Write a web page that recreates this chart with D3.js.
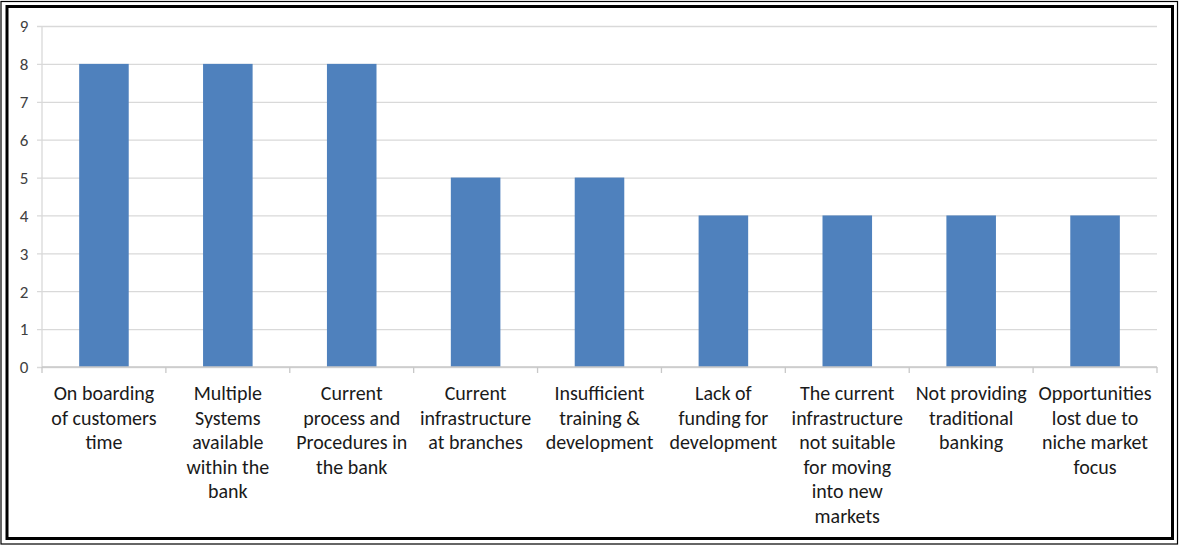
<!DOCTYPE html>
<html>
<head>
<meta charset="utf-8">
<script src="https://cdn.jsdelivr.net/npm/d3@7"></script>
<style>
  html, body { margin: 0; padding: 0; background: #fff; }
  svg { display: block; }
</style>
</head>
<body>
<svg id="chart" width="1179" height="545"></svg>
<script>
const categories = [
  ["On boarding", "of customers", "time"],
  ["Multiple", "Systems", "available", "within the", "bank"],
  ["Current", "process and", "Procedures in", "the bank"],
  ["Current", "infrastructure", "at branches"],
  ["Insufficient", "training &", "development"],
  ["Lack of", "funding for", "development"],
  ["The current", "infrastructure", "not suitable", "for moving", "into new", "markets"],
  ["Not providing", "traditional", "banking"],
  ["Opportunities", "lost due to", "niche market", "focus"]
];
const values = [8, 8, 8, 5, 5, 4, 4, 4, 4];
const yTicks = [0, 1, 2, 3, 4, 5, 6, 7, 8, 9];

const svg = d3.select("#chart");
const W = 1179, H = 545;
const font = "Carlito, Calibri, Lato, 'Open Sans', sans-serif";

// double border
svg.append("rect").attr("x", 1).attr("y", 1.5).attr("width", W - 2.5).attr("height", H - 2.5)
  .attr("fill", "none").attr("stroke", "#000").attr("stroke-width", 1.2);
svg.append("rect").attr("x", 7).attr("y", 6.5).attr("width", W - 13.5).attr("height", H - 13)
  .attr("fill", "none").attr("stroke", "#000").attr("stroke-width", 3);

const plot = { left: 42, right: 1157, top: 26, bottom: 367 };
const ids = categories.map((c, i) => i);
const x = d3.scaleBand().domain(ids).range([plot.left, plot.right]).paddingInner(0.6).paddingOuter(0.3);
const xOuter = d3.scaleBand().domain(ids).range([plot.left, plot.right]);
const y = d3.scaleLinear().domain([0, 9]).range([plot.bottom, plot.top]);

// gridlines + y axis
const yAxis = d3.axisLeft(y).tickValues(yTicks).tickSize(-(plot.right - plot.left));
const gy = svg.append("g").attr("transform", `translate(${plot.left},0)`).call(yAxis);
gy.attr("font-size", null).attr("font-family", null);
gy.select(".domain").remove();
gy.selectAll(".tick line").attr("stroke", "#d9d9d9").attr("stroke-width", 1.3).attr("x1", -5);
gy.selectAll(".tick text")
  .style("font-family", font).style("font-size", "17px")
  .attr("fill", "#404040").attr("text-anchor", "middle").attr("x", -18).attr("dy", "0.34em");

svg.append("line").attr("x1", plot.left).attr("x2", plot.left).attr("y1", plot.top).attr("y2", plot.bottom)
  .attr("stroke", "#d9d9d9").attr("stroke-width", 1.3);

// bars
svg.append("g").selectAll("rect").data(values).join("rect")
  .attr("x", (d, i) => x(i)).attr("width", x.bandwidth())
  .attr("y", d => y(d)).attr("height", d => y(0) - y(d))
  .attr("fill", "#4f81bd");

// x axis
svg.append("line").attr("x1", plot.left).attr("x2", plot.right).attr("y1", plot.bottom).attr("y2", plot.bottom)
  .attr("stroke", "#c8c8c8").attr("stroke-width", 1.3);
const bounds = ids.map(i => xOuter(i)).concat([plot.right]);
svg.append("g").selectAll("line").data(bounds).join("line")
  .attr("x1", d => d).attr("x2", d => d).attr("y1", plot.bottom).attr("y2", plot.bottom + 6)
  .attr("stroke", "#c8c8c8").attr("stroke-width", 1.3);

// category labels
const lg = svg.append("g");
categories.forEach((lines, i) => {
  const cx = xOuter(i) + xOuter.bandwidth() / 2;
  const t = lg.append("text").attr("x", cx).attr("y", 400)
    .attr("text-anchor", "middle").style("font-family", font).style("font-size", "20px").attr("fill", "#1a1a1a");
  lines.forEach((ln, k) => {
    t.append("tspan").attr("x", cx).attr("y", 400 + k * 24.5).text(ln);
  });
});
</script>
</body>
</html>
